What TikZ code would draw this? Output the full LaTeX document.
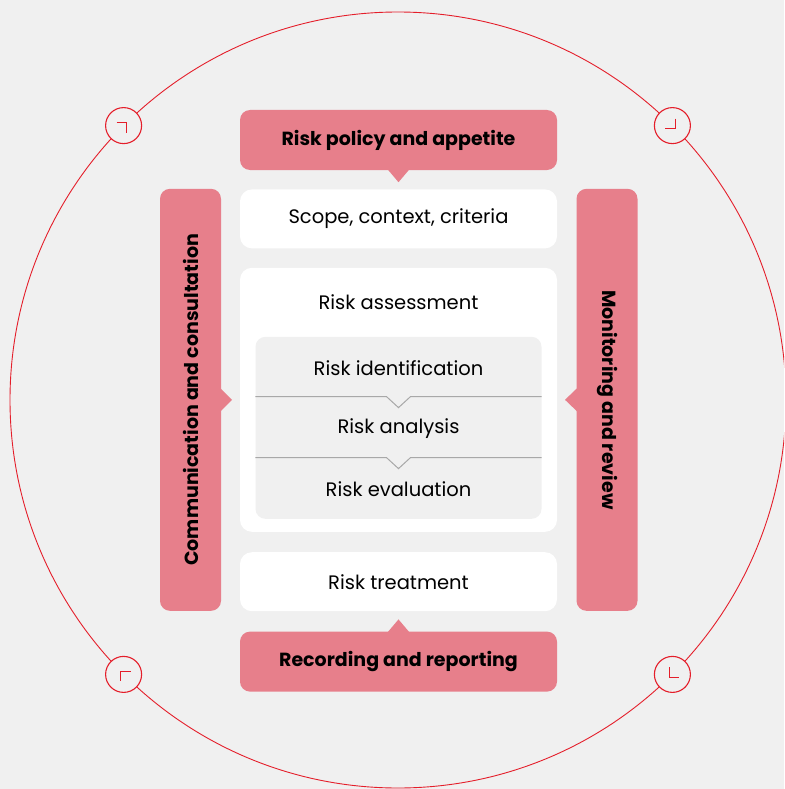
\documentclass[tikz,border=0pt]{standalone}
\usepackage{fontspec}
\setmainfont{Poppins}
\usetikzlibrary{positioning}
\definecolor{bgcol}{RGB}{240,240,240}
\definecolor{pinkcol}{RGB}{231,127,139}
\definecolor{redcol}{RGB}{228,30,42}
\definecolor{greycol}{RGB}{168,168,168}
\tikzstyle{whitebox} = [fill=white, rounded corners=12pt, minimum width=317pt, minimum height=59pt, inner sep=0pt, font=\fontsize{19.5}{22}\selectfont]
\tikzstyle{pinkbox} = [fill=pinkcol, rounded corners=10pt, minimum width=317pt, minimum height=60pt, inner sep=0pt, font=\fontsize{19}{22}\selectfont\bfseries]
\tikzstyle{innerbox} = [fill=bgcol, rounded corners=10pt, minimum width=286pt, minimum height=182pt, inner sep=0pt]
\tikzstyle{sidebar} = [fill=pinkcol, rounded corners=10pt, minimum width=422pt, minimum height=61pt, inner sep=0pt, font=\fontsize{19}{22}\selectfont\bfseries]
\tikzstyle{label} = [inner sep=0pt, font=\fontsize{19.5}{22}\selectfont]
\tikzstyle{pointer} = [fill=pinkcol]
\tikzstyle{divider} = [draw=greycol, line width=1pt]
\tikzstyle{ring} = [draw=redcol, line width=1.1pt, fill=bgcol, circle, minimum size=36pt, inner sep=0pt]
\tikzstyle{cornermark} = [draw=redcol, line width=1.1pt]

\begin{document}
\begin{tikzpicture}[x=1pt, y=-1pt]
	\fill[bgcol] (0,0) rectangle (784,789);
	\useasboundingbox (0,0) rectangle (784,789);
	\clip (0,0) rectangle (784,789);

	% outer ring
	\node [draw=redcol, line width=0.9pt, circle, minimum size=776pt, inner sep=0pt] (outer) at (398,400) {};
	\node [ring] (c1) at (123.6,125.6) {};
	\node [ring] (c2) at (672.4,125.6) {};
	\node [ring] (c3) at (123.6,674.4) {};
	\node [ring] (c4) at (672.4,674.4) {};
	\draw [cornermark] ([shift={(-7,-3)}]c1.center) -- ++(10,0) -- ++(0,10);
	\draw [cornermark] ([shift={(3,-7)}]c2.center) -- ++(0,10) -- ++(-10,0);
	\draw [cornermark] ([shift={(7,-3)}]c3.center) -- ++(-10,0) -- ++(0,10);
	\draw [cornermark] ([shift={(-3,-7)}]c4.center) -- ++(0,10) -- ++(10,0);

	% process boxes
	\node [pinkbox] (policy) at (398.5,140) {Risk policy and appetite};
	\node [whitebox, below=19pt of policy] (scope) {Scope, context, criteria};
	\node [whitebox, minimum height=264pt, below=19pt of scope] (assess) {};
	\node [label] (assesstext) at ([yshift=-35pt]assess.north) {Risk assessment};
	\node [innerbox, anchor=north] (inner) at ([yshift=-69pt]assess.north) {};
	\node [label] (ident) at ([yshift=-32pt]inner.north) {Risk identification};
	\node [label] (analysis) at ([yshift=-92pt]inner.north) {Risk analysis};
	\node [label] (evaluation) at ([yshift=-153pt]inner.north) {Risk evaluation};
	\node [whitebox, below=20pt of assess] (treat) {Risk treatment};
	\node [pinkbox, below=20pt of treat] (record) {Recording and reporting};

	% side bars
	\node [sidebar, rotate=90] (comm) at ([xshift=-208pt]assess.center) {Communication and consultation};
	\node [sidebar, rotate=-90] (monitor) at ([xshift=208.5pt]assess.center) {Monitoring and review};

	% pointers
	\fill [pointer] ([shift={(-11,-1)}]policy.south) -- ([yshift=-12pt]policy.south) -- ([shift={(11,-1)}]policy.south) -- cycle;
	\fill [pointer] ([shift={(-11,1)}]record.north) -- ([yshift=12pt]record.north) -- ([shift={(11,1)}]record.north) -- cycle;
	\fill [pointer] ([shift={(29.5,-12)}]comm.center) -- ([xshift=41.5pt]comm.center) -- ([shift={(29.5,12)}]comm.center) -- cycle;
	\fill [pointer] ([shift={(-29.5,-12)}]monitor.center) -- ([xshift=-42pt]monitor.center) -- ([shift={(-29.5,12)}]monitor.center) -- cycle;

	% dividers
	\draw [divider] ([yshift=-60pt]inner.north west) -- ([shift={(-12,60)}]inner.north) -- ([yshift=-71pt]inner.north) -- ([shift={(12,60)}]inner.north) -- ([yshift=-60pt]inner.north east);
	\draw [divider] ([yshift=-121pt]inner.north west) -- ([shift={(-12,121)}]inner.north) -- ([yshift=-132pt]inner.north) -- ([shift={(12,121)}]inner.north) -- ([yshift=-121pt]inner.north east);
\end{tikzpicture}
\end{document}
